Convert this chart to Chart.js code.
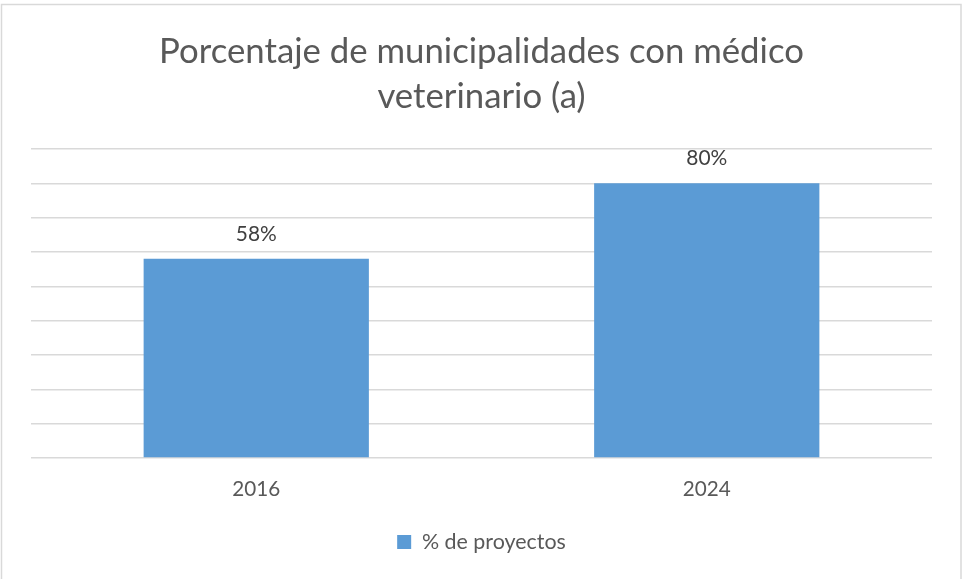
<!DOCTYPE html>
<html>
<head>
<meta charset="utf-8">
<script src="https://cdn.jsdelivr.net/npm/chart.js@4.4.1/dist/chart.umd.min.js"></script>
<style>
  html, body { margin: 0; padding: 0; background: #ffffff; }
  #wrap { position: relative; width: 963px; height: 579px; }
</style>
</head>
<body>
<div id="wrap"><canvas id="c" width="963" height="579"></canvas></div>
<script>
// ---- Data ----
const titleLines = ['Porcentaje de municipalidades con médico', 'veterinario (a)'];
const categories = ['2016', '2024'];
const seriesName = '% de proyectos';
const values = [58, 80];
const yMin = 0;
const yMax = 90;
const yStep = 10;

// ---- Style ----
const FAMILY = 'Lato, "Open Sans", sans-serif';
const TEXT = '#595959';
const LABEL = '#404040';
const BAR = '#5B9BD5';
const GRID = '#D9D9D9';

function fitSize(text, target) {
  const ctx = document.createElement('canvas').getContext('2d');
  ctx.font = '100px ' + FAMILY;
  return 100 * target / ctx.measureText(text).width;
}
const titleSize = fitSize(titleLines[0], 645);
const tickSize = fitSize('2016', 48);
const legendSize = fitSize(seriesName, 144);
const labelSize = fitSize('58%', 41);

// layout computations (pixel targets)
const axisBottom = 458;
const tickCenter = 489;
const tickPad = tickCenter - axisBottom - 0.6 * tickSize;
const xAxisBottom = axisBottom + 2 * tickPad + 1.2 * tickSize;
const legendItemH = Math.max(legendSize, 14);
const legendCenter = 542;
const legendPad = Math.max(0, legendCenter - legendItemH / 2 - xAxisBottom);
const layoutBottom = 579 - (legendCenter + 10 + legendItemH / 2);

const borderPlugin = {
  id: 'frame',
  beforeDraw(chart) {
    const ctx = chart.ctx;
    ctx.save();
    ctx.strokeStyle = GRID;
    ctx.lineWidth = 1.5;
    ctx.strokeRect(1.5, 4.5, 959.5, 580);
    ctx.restore();
  }
};

const valueLabels = {
  id: 'valueLabels',
  afterDatasetsDraw(chart) {
    const ctx = chart.ctx;
    ctx.save();
    ctx.font = labelSize + 'px ' + FAMILY;
    ctx.fillStyle = LABEL;
    ctx.textAlign = 'center';
    ctx.textBaseline = 'middle';
    chart.getDatasetMeta(0).data.forEach((bar, i) => {
      ctx.fillText(values[i] + '%', bar.x, bar.y - 25);
    });
    ctx.restore();
  }
};

new Chart(document.getElementById('c'), {
  type: 'bar',
  data: {
    labels: categories,
    datasets: [{
      label: seriesName,
      data: values,
      backgroundColor: BAR,
      borderWidth: 0,
      barPercentage: 0.5,
      categoryPercentage: 1.0
    }]
  },
  options: {
    responsive: false,
    animation: false,
    devicePixelRatio: 1,
    layout: { padding: { left: 31, right: 31, top: 0, bottom: layoutBottom } },
    plugins: {
      title: {
        display: true,
        text: titleLines,
        color: TEXT,
        font: { family: FAMILY, size: titleSize, weight: 'normal', lineHeight: '45px' },
        padding: { top: 29.5, bottom: 29.5 }
      },
      legend: {
        display: true,
        position: 'bottom',
        labels: {
          color: TEXT,
          font: { family: FAMILY, size: legendSize },
          boxWidth: 14,
          boxHeight: 14,
          padding: legendPad
        }
      },
      tooltip: { enabled: false }
    },
    scales: {
      x: {
        grid: { display: false, drawTicks: false },
        border: { display: false },
        ticks: { color: TEXT, font: { family: FAMILY, size: tickSize }, padding: tickPad, maxRotation: 0 }
      },
      y: {
        min: yMin,
        max: yMax,
        grid: { color: GRID, lineWidth: 1.5, drawTicks: false },
        border: { display: false },
        ticks: { display: false, stepSize: yStep }
      }
    }
  },
  plugins: [borderPlugin, valueLabels]
});
</script>
</body>
</html>
